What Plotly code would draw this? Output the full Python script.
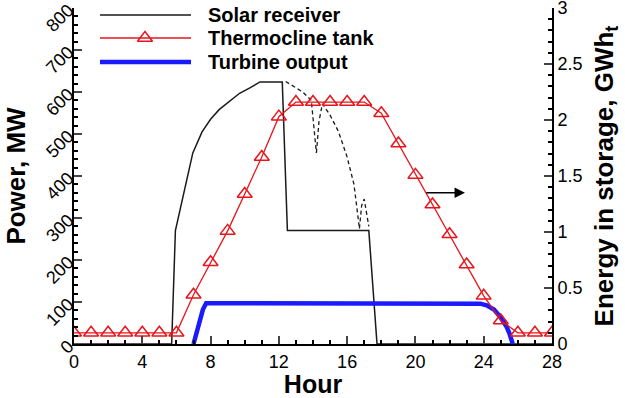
import plotly.graph_objects as go

# ---- data ----
solar_hr = [0, 5.72, 5.94, 6.1, 6.35, 6.6, 6.96, 7.5, 8.0, 8.5, 9.0, 9.7, 10.3, 10.9, 12.2, 12.5, 17.27, 17.75, 28]
solar_mw = [0, 0, 270, 300, 345, 385, 455, 505, 535, 558, 575, 597, 610, 624, 624, 270, 270, 0, 0]

dashA_hr = [12.4, 12.8, 13.4, 13.9, 14.05, 14.2]
dashA_mw = [625, 615, 600, 580, 520, 455]
dashB_hr = [14.2, 14.35, 14.55, 15.0, 15.5, 16.0, 16.4, 16.6, 16.72]
dashB_mw = [455, 530, 572, 545, 505, 445, 380, 320, 275]
dashC_hr = [16.72, 16.85, 17.0, 17.15, 17.27]
dashC_mw = [275, 330, 345, 310, 280]

tank_hr = list(range(0, 29))
tank_gwh = [0.1, 0.1, 0.1, 0.1, 0.1, 0.1, 0.1, 0.44, 0.73, 1.01, 1.34, 1.67, 2.03,
            2.16, 2.16, 2.16, 2.16, 2.16, 2.06, 1.79, 1.51, 1.245, 0.98, 0.71, 0.43,
            0.21, 0.1, 0.1, 0.1]

turb_hr = [7.0, 7.3, 7.55, 7.74, 23.4, 23.8, 24.17, 24.6, 24.96, 25.2, 25.34, 25.5, 25.62, 25.7]
turb_mw = [0, 45, 82, 97, 97, 96, 92, 82, 65, 52, 41, 26, 13, 0]

x_ticks = [0, 4, 8, 12, 16, 20, 24, 28]
y_ticks = [0, 100, 200, 300, 400, 500, 600, 700, 800]
y2_ticks = [0, 0.5, 1, 1.5, 2, 2.5, 3]
y2_labels = ["0", "0.5", "1", "1.5", "2", "2.5", "3"]

legend_names = ["Solar receiver", "Thermocline tank", "Turbine output"]
legend_colors = ["#1a1a1a", "#e8141b", "#1a1aff"]
legend_widths = [1.5, 1.3, 4.5]

FONT = "Liberation Sans, Arial, sans-serif"
RED = "#e8141b"

fig = go.Figure()
fig.add_trace(go.Scatter(x=solar_hr, y=solar_mw, mode="lines", name=legend_names[0],
                         line=dict(color=legend_colors[0], width=1.5)))
fig.add_trace(go.Scatter(x=tank_hr, y=tank_gwh, mode="lines+markers", name=legend_names[1],
                         yaxis="y2", line=dict(color=RED, width=1.3),
                         marker=dict(symbol="triangle-up-open", size=13, color=RED,
                                     line=dict(width=1.5))))
fig.add_trace(go.Scatter(x=turb_hr, y=turb_mw, mode="lines", name=legend_names[2],
                         line=dict(color=legend_colors[2], width=4.5)))
for hx, my in [(dashA_hr, dashA_mw), (dashB_hr, dashB_mw), (dashC_hr, dashC_mw)]:
    fig.add_trace(go.Scatter(x=hx, y=my, mode="lines", showlegend=False,
                             line=dict(color="#1a1a1a", width=1.3, dash="4px,3px")))

fig.add_annotation(x=22.9, y=360, ax=20.55, ay=360, xref="x", yref="y", axref="x", ayref="y",
                   showarrow=True, arrowhead=2, arrowsize=1.3, arrowwidth=1.6, arrowcolor="black", text="")

# ---- manual legend (paper coordinates) ----
leg_y = [0.979, 0.9107, 0.8393]
lx0, lx1, ltx, lmx = 0.0544, 0.2448, 0.2762, 0.1485
for name, col, w, yy in zip(legend_names, legend_colors, legend_widths, leg_y):
    fig.add_shape(type="line", xref="paper", yref="paper", x0=lx0, x1=lx1, y0=yy, y1=yy,
                  line=dict(color=col, width=w))
    fig.add_annotation(x=ltx, y=yy, xref="paper", yref="paper", text="<b>%s</b>" % name,
                       showarrow=False, xanchor="left", yanchor="middle",
                       font=dict(size=20, family=FONT, color="black"))
fig.add_trace(go.Scatter(x=[lmx], y=[leg_y[1]], xaxis="x3", yaxis="y3", mode="markers",
                         showlegend=False, hoverinfo="skip",
                         marker=dict(symbol="triangle-up-open", size=13, color=RED, line=dict(width=1.5))))

fig.update_layout(
    width=625, height=398,
    margin=dict(l=74, r=73, t=8, b=54),
    paper_bgcolor="white", plot_bgcolor="white",
    font=dict(family=FONT, size=18, color="black"),
    showlegend=False,
    xaxis=dict(range=[0, 28], tickvals=x_ticks, ticks="inside", ticklen=8, tickwidth=1.5,
               showline=True, linecolor="black", linewidth=2, showgrid=False, zeroline=False,
               minor=dict(dtick=1, ticks="inside", ticklen=4, tickcolor="black", showgrid=False),
               title=dict(text="<b>Hour</b>", font=dict(size=25), standoff=0),
               tickfont=dict(size=18), automargin=False, ticklabeloverflow="allow"),
    yaxis=dict(range=[0, 800], tickvals=y_ticks, ticks="inside", ticklen=8, tickwidth=1.5,
               showline=True, linecolor="black", linewidth=2, showgrid=False, zeroline=False,
               minor=dict(dtick=20, ticks="inside", ticklen=4, tickcolor="black", showgrid=False),
               tickangle=-45, tickfont=dict(size=18), automargin=False, ticklabeloverflow="allow",
               title=dict(text="<b>Power, MW</b>", font=dict(size=26), standoff=9)),
    yaxis2=dict(range=[0, 3], overlaying="y", side="right", tickvals=y2_ticks, ticktext=y2_labels,
                ticks="inside", ticklen=8, tickwidth=1.5,
                showline=True, linecolor="black", linewidth=2, showgrid=False, zeroline=False,
                minor=dict(dtick=0.1, ticks="inside", ticklen=4, tickcolor="black", showgrid=False),
                tickfont=dict(size=18), automargin=False, ticklabeloverflow="allow",
                title=dict(text="<b>Energy in storage, GWh<sub>t</sub></b>", font=dict(size=26), standoff=13)),
    xaxis3=dict(overlaying="x", range=[0, 1], visible=False),
    yaxis3=dict(overlaying="y", range=[0, 1], visible=False, anchor="x3"),
)

fig.write_html("out.html", config={"displayModeBar": False},
               post_script="document.body.style.margin='0';")
